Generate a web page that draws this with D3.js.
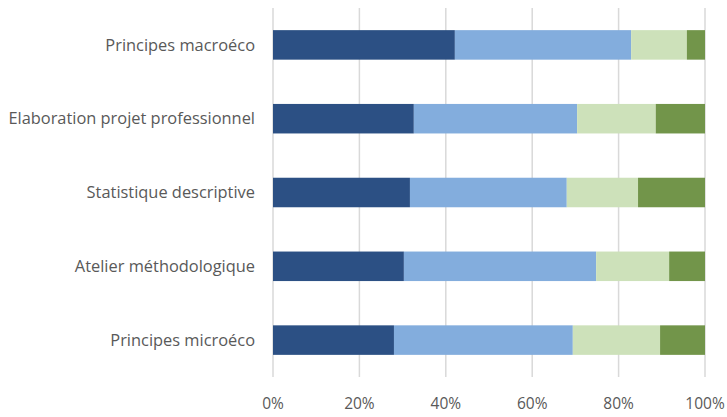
<!DOCTYPE html>
<html>
<head>
<meta charset="utf-8">
<script src="https://cdn.jsdelivr.net/npm/d3@7"></script>
<style>
  body { margin: 0; background: #fff; }
  text { font-family: "Open Sans", sans-serif; fill: #595959; }
</style>
</head>
<body>
<script>
const categories = [
  "Principes macroéco",
  "Elaboration projet professionnel",
  "Statistique descriptive",
  "Atelier méthodologique",
  "Principes microéco"
];
// share of each answer level, in %
const level1 = [42.1, 32.6, 31.7, 30.3, 28.0];
const level2 = [40.8, 37.8, 36.3, 44.5, 41.4];
const level3 = [12.9, 18.2, 16.5, 16.9, 20.2];
const level4 = [4.2, 11.4, 15.5, 8.3, 10.4];
const tickValues = [0, 20, 40, 60, 80, 100];
const colors = ["#2C5084", "#83ADDD", "#CDE1BA", "#72954A"];

const width = 727, height = 417;
const margin = {top: 8, right: 22, bottom: 40, left: 273};

const svg = d3.select("body")
  .append("svg")
  .attr("width", width)
  .attr("height", height);

const x = d3.scaleLinear()
  .domain([0, 100])
  .range([margin.left, width - margin.right]);

const y = d3.scaleBand()
  .domain(categories)
  .range([margin.top, height - margin.bottom])
  .paddingInner(0.6)
  .paddingOuter(0.3);

// grid
svg.append("g")
  .selectAll("line")
  .data(tickValues)
  .join("line")
  .attr("x1", d => x(d))
  .attr("x2", d => x(d))
  .attr("y1", margin.top)
  .attr("y2", height - margin.bottom)
  .attr("stroke", "#D9D9D9")
  .attr("stroke-width", 1.5);

const rows = categories.map((c, i) => ({
  cat: c,
  l1: level1[i], l2: level2[i], l3: level3[i], l4: level4[i]
}));
const stack = d3.stack().keys(["l1", "l2", "l3", "l4"])(rows);

svg.append("g")
  .selectAll("g")
  .data(stack)
  .join("g")
  .attr("fill", (d, i) => colors[i])
  .selectAll("rect")
  .data(d => d)
  .join("rect")
  .attr("x", d => x(d[0]))
  .attr("width", d => x(d[1]) - x(d[0]))
  .attr("y", d => y(d.data.cat))
  .attr("height", y.bandwidth());

// x tick labels
svg.append("g")
  .selectAll("text")
  .data(tickValues)
  .join("text")
  .attr("x", d => x(d))
  .attr("y", 409)
  .attr("text-anchor", "middle")
  .style("font-size", "15.5px")
  .text(d => d + "%");

// category labels
svg.append("g")
  .selectAll("text")
  .data(categories)
  .join("text")
  .attr("x", 255)
  .attr("y", d => y(d) + y.bandwidth() / 2)
  .attr("dy", "0.35em")
  .attr("text-anchor", "end")
  .style("font-size", "16.4px")
  .text(d => d);
</script>
</body>
</html>
